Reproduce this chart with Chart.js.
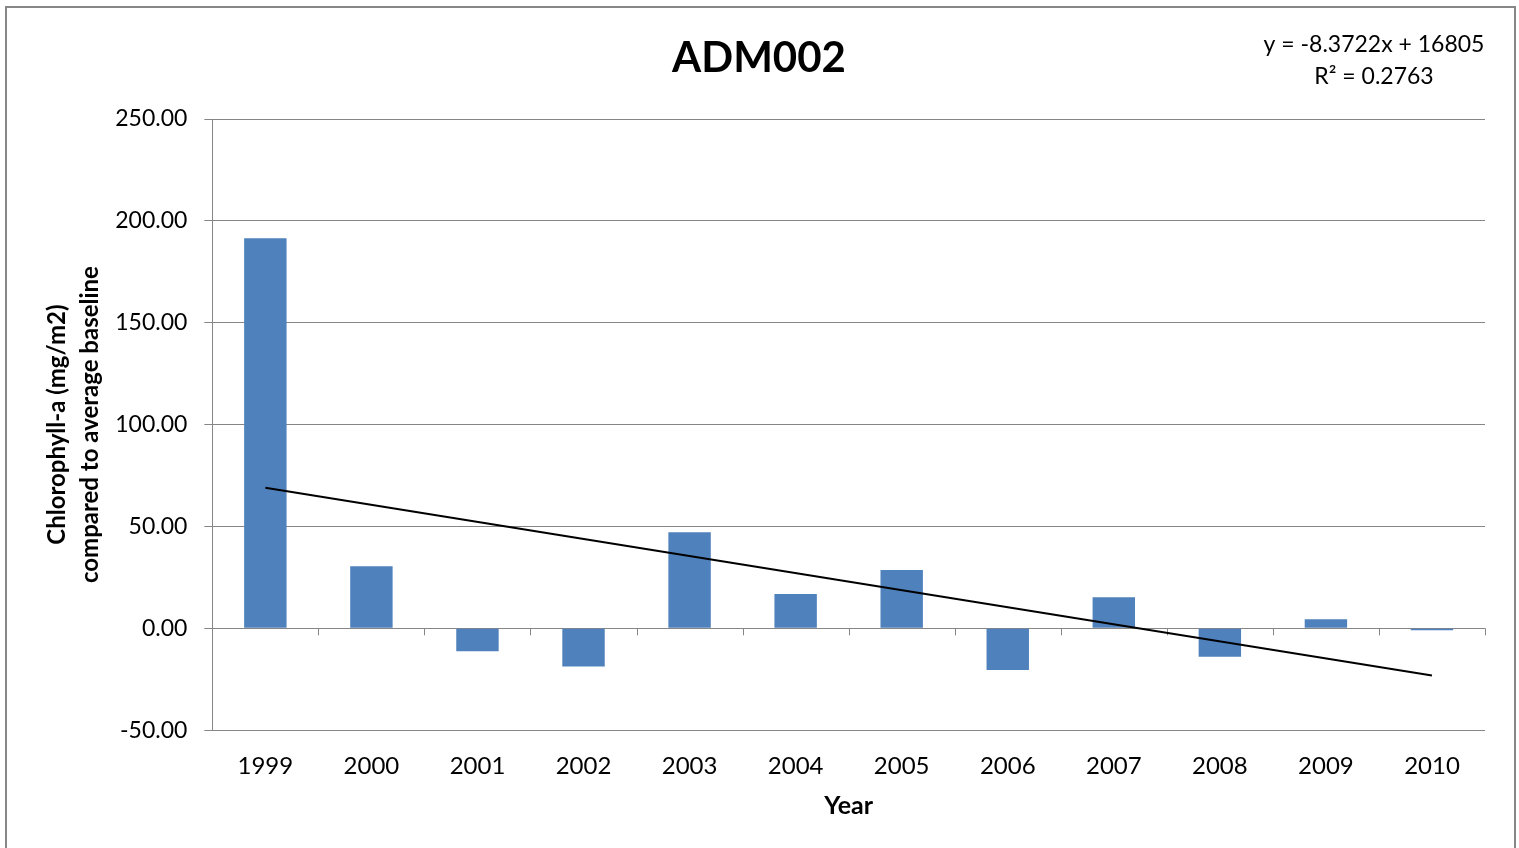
<!DOCTYPE html>
<html>
<head>
<meta charset="utf-8">
<script src="https://cdn.jsdelivr.net/npm/chart.js@4.4.1/dist/chart.umd.min.js"></script>
<style>
    html, body { margin: 0; padding: 0; background: #fff; overflow: hidden; }
    .frame { position: absolute; left: 5px; top: 6px; width: 1507px; height: 900px; border: 2px solid #878787; }
    .chart-wrapper { position: absolute; left: 0; top: 0; width: 1519px; height: 848px; }
</style>
</head>
<body>
<div class="frame"></div>
<div class="chart-wrapper"><canvas id="chlChart"></canvas></div>
<script>
// values
const years = ['1999', '2000', '2001', '2002', '2003', '2004', '2005', '2006', '2007', '2008', '2009', '2010'];
const chlValues = [191.5, 30.5, -11.2, -18.7, 47.2, 16.8, 28.6, -20.5, 15.3, -14.0, 4.5, -1.0];
// trendline end points (y = -8.3722x + 16805), middle left empty
const trendValues = [68.97, null, null, null, null, null, null, null, null, null, null, -23.12];
const yTicks = [-50, 0, 50, 100, 150, 200, 250];

const chartTitle = 'ADM002';
const equationLines = ['y = -8.3722x + 16805', 'R² = 0.2763'];

const FONT = "Lato, 'Open Sans', sans-serif";
const gridColor = '#868686';

// titel + trendline-formule + x-as op de nullijn
const extrasPlugin = {
    id: 'extras',
    beforeDatasetsDraw(chart) {
        const { ctx, chartArea, scales } = chart;
        const y0 = scales.y.getPixelForValue(0);
        const step = (chartArea.right - chartArea.left) / years.length;
        ctx.save();
        ctx.strokeStyle = gridColor;
        ctx.lineWidth = 1;
        ctx.beginPath();
        for (let i = 1; i <= years.length; i++) {
            const x = Math.round(chartArea.left + i * step) + 0.5;
            ctx.moveTo(x, y0);
            ctx.lineTo(x, y0 + 7);
        }
        ctx.stroke();
        ctx.restore();
    },
    afterDraw(chart) {
        const { ctx } = chart;
        ctx.save();
        ctx.fillStyle = '#000';
        ctx.textAlign = 'center';
        ctx.textBaseline = 'middle';
        ctx.font = "bold 42px " + FONT;
        ctx.fillText(chartTitle, 759, 58);
        ctx.font = "23px " + FONT;
        equationLines.forEach((line, i) => ctx.fillText(line, 1374, 45 + i * 32));
        ctx.restore();
    }
};

const ctx = document.getElementById('chlChart').getContext('2d');
Chart.defaults.font.family = FONT;
Chart.defaults.color = '#000';

new Chart(ctx, {
    type: 'bar',
    data: {
        labels: years,
        datasets: [
            {
                type: 'line',
                label: 'Trend',
                data: trendValues,
                borderColor: '#000',
                borderWidth: 2,
                pointRadius: 0,
                fill: false,
                spanGaps: true,
                order: 0
            },
            {
                label: 'Chlorophyll-a',
                data: chlValues,
                backgroundColor: '#4F81BD',
                categoryPercentage: 1,
                barPercentage: 0.4,
                order: 1
            }
        ]
    },
    options: {
        responsive: true,
        maintainAspectRatio: false,
        animation: false,
        layout: { padding: { top: 119, left: 40, right: 34, bottom: 23 } },
        plugins: {
            legend: { display: false },
            tooltip: { enabled: false }
        },
        scales: {
            x: {
                grid: { display: false },
                border: { display: false },
                ticks: { padding: 14, font: { size: 24 } },
                title: {
                    display: true,
                    text: 'Year',
                    font: { size: 25, weight: 'bold' },
                    padding: { top: -4, bottom: 4 }
                }
            },
            y: {
                min: -50,
                max: 250,
                afterBuildTicks: (axis) => { axis.ticks = yTicks.map(v => ({ value: v })); },
                grid: { color: gridColor, lineWidth: 1, tickLength: 8 },
                border: { display: true, color: gridColor, width: 1 },
                ticks: {
                    padding: 17,
                    font: { size: 23 },
                    callback: (value) => Number(value).toFixed(2)
                },
                title: {
                    display: true,
                    text: ['Chlorophyll-a (mg/m2)', 'compared to average baseline'],
                    font: { size: 24, weight: 'bold', lineHeight: 1.4 },
                    padding: { top: 0, bottom: -9 }
                }
            }
        }
    },
    plugins: [extrasPlugin]
});
</script>
</body>
</html>
